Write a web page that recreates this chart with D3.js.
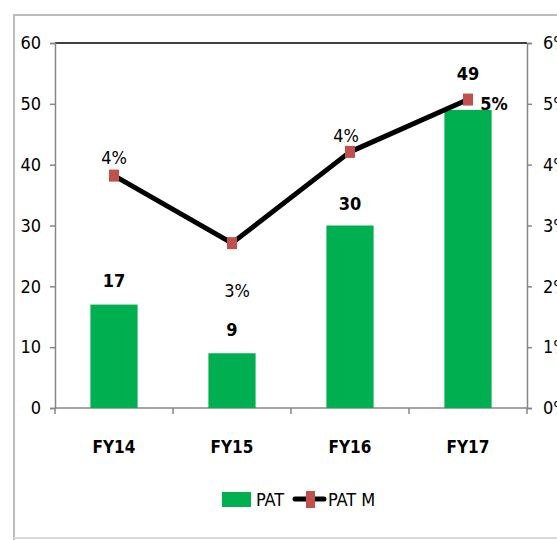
<!DOCTYPE html>
<html><head><meta charset="utf-8">
<script src="https://cdn.jsdelivr.net/npm/d3@7"></script>
<style>body{margin:0;background:#fff}svg{display:block}text{font-family:"Liberation Sans Narrow","DejaVu Sans Condensed","Open Sans Condensed",sans-serif;font-stretch:condensed}</style>
</head><body><svg id="c" width="557" height="540"></svg>
<script>
const categories = ["FY14","FY15","FY16","FY17"];
const patValues = [17, 9, 30, 49];
const patMValues = [3.82, 2.71, 4.21, 5.07];
const patMLabels = ["4%","3%","4%","5%"];
const leftTicks = [0,10,20,30,40,50,60];
const rightTicks = [0,1,2,3,4,5,6];

const svg = d3.select("#c");
const L = 55, R = 527, T = 43, B = 408;

// outer frame
svg.append("path").attr("d","M14,540 L14,15 L557,15").attr("fill","none").attr("stroke","#bdbdbd").attr("stroke-width",2);
svg.append("line").attr("x1",14).attr("x2",557).attr("y1",538).attr("y2",538).attr("stroke","#d9d9d9").attr("stroke-width",2);

const x = d3.scaleBand().domain(categories).range([L,R]).paddingInner(0.6).paddingOuter(0.3);
const y = d3.scaleLinear().domain([0,60]).range([B,T]);
const y2 = d3.scaleLinear().domain([0,6]).range([B,T]);

// top border
svg.append("line").attr("x1",L).attr("x2",R).attr("y1",T).attr("y2",T).attr("stroke","#000").attr("stroke-width",1.5);

// left axis
const gl = svg.append("g").attr("transform",`translate(${L},0)`)
  .call(d3.axisLeft(y).tickValues(leftTicks).tickSize(5).tickPadding(9));
gl.select(".domain").attr("stroke","#868686").attr("stroke-width",1.5);
gl.selectAll(".tick line").attr("stroke","#868686").attr("stroke-width",1.5);
gl.selectAll("text").attr("font-size",18).attr("fill","#000");

// right axis
const gr = svg.append("g").attr("transform",`translate(${R},0)`)
  .call(d3.axisRight(y2).tickValues(rightTicks).tickFormat(d=>d+"%").tickSize(5).tickPadding(11));
gr.select(".domain").attr("stroke","#868686").attr("stroke-width",1.5);
gr.selectAll(".tick line").attr("stroke","#868686").attr("stroke-width",1.5);
gr.selectAll("text").attr("font-size",18).attr("fill","#000");
svg.selectAll("g").attr("font-family",null);

// bottom axis
const gb = svg.append("g").attr("transform",`translate(0,${B})`);
gb.append("line").attr("x1",L).attr("x2",R).attr("stroke","#868686").attr("stroke-width",1.5);
const bounds = d3.range(categories.length+1).map(i => L + i*(R-L)/categories.length);
gb.selectAll(".bt").data(bounds).join("line").attr("x1",d=>d).attr("x2",d=>d).attr("y1",0).attr("y2",6)
  .attr("stroke","#868686").attr("stroke-width",1.5);
gb.selectAll(".bl").data(categories).join("text")
  .attr("x",d=>x(d)+x.bandwidth()/2).attr("y",45).attr("text-anchor","middle")
  .attr("font-size",17).attr("font-weight","bold").attr("fill","#000").text(d=>d);

// bars
svg.selectAll(".bar").data(categories).join("rect")
  .attr("x",d=>x(d)).attr("width",x.bandwidth())
  .attr("y",(d,i)=>y(patValues[i])).attr("height",(d,i)=>B-y(patValues[i]))
  .attr("fill","#00b050");

// bar labels
const barLabelDy = [-18,-17,-16,-30];
svg.selectAll(".bv").data(categories).join("text")
  .attr("x",d=>x(d)+x.bandwidth()/2).attr("y",(d,i)=>y(patValues[i])+barLabelDy[i])
  .attr("text-anchor","middle").attr("font-size",18).attr("font-weight","bold").attr("fill","#000")
  .text((d,i)=>patValues[i]);

// line
const cx = d => x(d)+x.bandwidth()/2;
svg.append("path").datum(categories)
  .attr("d", d3.line().x(d=>cx(d)).y((d,i)=>y2(patMValues[i])))
  .attr("fill","none").attr("stroke","#000").attr("stroke-width",5).attr("stroke-linejoin","round");
svg.selectAll(".mk").data(categories).join("rect")
  .attr("x",d=>cx(d)-5).attr("y",(d,i)=>y2(patMValues[i])-6).attr("width",10).attr("height",12)
  .attr("fill","#c0504d");

// line labels
const lblOff = [[0,-12],[5,54],[-4,-10],[26,10]];
svg.selectAll(".ml").data(categories).join("text")
  .attr("x",(d,i)=>cx(d)+lblOff[i][0]).attr("y",(d,i)=>y2(patMValues[i])+lblOff[i][1])
  .attr("text-anchor","middle").attr("font-size",18).attr("fill","#000")
  .attr("font-weight",(d,i)=>i===3?"bold":"normal")
  .text((d,i)=>patMLabels[i]);

// legend
const lg = svg.append("g");
lg.append("rect").attr("x",222).attr("y",492).attr("width",29).attr("height",15).attr("fill","#00b050");
lg.append("text").attr("x",256).attr("y",506).attr("font-size",18).attr("fill","#000").text("PAT");
lg.append("line").attr("x1",295).attr("x2",324).attr("y1",499).attr("y2",499).attr("stroke","#000").attr("stroke-width",5).attr("stroke-linecap","round");
lg.append("rect").attr("x",306).attr("y",491).attr("width",9).attr("height",17).attr("fill","#c0504d");
lg.append("text").attr("x",328).attr("y",506).attr("font-size",18).attr("fill","#000").text("PAT M");
</script></body></html>
